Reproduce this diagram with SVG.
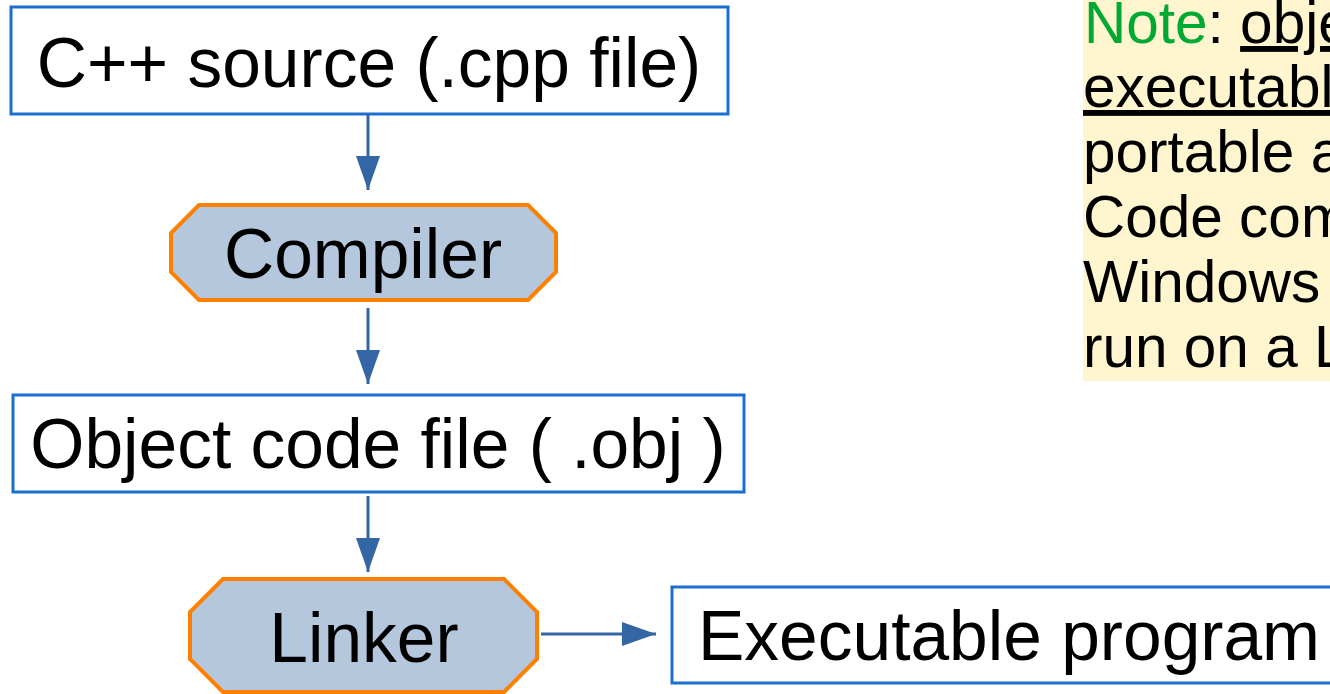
<svg xmlns="http://www.w3.org/2000/svg" width="1330" height="694" viewBox="0 0 1330 694">
<defs>
<style>
.box{fill:#ffffff;stroke:#1a6fcf;stroke-width:3}
.oct{fill:#b4c7dc;stroke:#ff8000;stroke-width:4;stroke-linejoin:miter}
.lbl{font-family:"Liberation Sans",Arial,sans-serif;font-size:69.5px;fill:#000}
.note{font-family:"Liberation Sans",Arial,sans-serif;font-size:58.5px;fill:#000}
.conn{stroke:#3465a4;stroke-width:3;fill:none}
</style>
<marker id="ah" viewBox="0 0 34 24" refX="34" refY="12" markerWidth="34" markerHeight="24" markerUnits="userSpaceOnUse" orient="auto">
<path d="M0,0 L34,12 L0,24 Z" fill="#3465a4"/>
</marker>
</defs>
<rect width="1330" height="694" fill="#ffffff"/>
<g id="note">
<rect x="1083" y="0" width="247" height="381" fill="#fff5ce"/>
<text class="note" x="1084" y="43"><tspan fill="#00a933">Note</tspan>: <tspan text-decoration="underline">obje</tspan></text>
<text class="note" x="1083" y="107" text-decoration="underline">executabl</text>
<text class="note" x="1083" y="172">portable a</text>
<text class="note" x="1083" y="237">Code com</text>
<text class="note" x="1083" y="302">Windows</text>
<text class="note" x="1083" y="367">run on a L</text>
</g>
<g id="source">
<rect class="box" x="11" y="7" width="717" height="107"/>
<text class="lbl" x="369" y="87" text-anchor="middle">C++ source (.cpp file)</text>
</g>
<g id="compiler">
<polygon class="oct" points="199,205 528,205 556,233 556,272 528,300 199,300 171,272 171,233"/>
<text class="lbl" x="363" y="278" text-anchor="middle">Compiler</text>
</g>
<g id="object">
<rect class="box" x="13" y="395" width="731" height="97"/>
<text class="lbl" x="378" y="468" text-anchor="middle">Object code file ( .obj )</text>
</g>
<g id="linker">
<polygon class="oct" points="223,579 504,579 537,612 537,659 504,692 223,692 190,659 190,612"/>
<text class="lbl" x="364" y="662" text-anchor="middle">Linker</text>
</g>
<g id="executable">
<rect class="box" x="672" y="587" width="670" height="96"/>
<text class="lbl" x="698" y="660">Executable program</text>
</g>
<g id="connectors">
<line class="conn" x1="368" y1="114" x2="368" y2="190" marker-end="url(#ah)"/>
<line class="conn" x1="368" y1="308" x2="368" y2="384" marker-end="url(#ah)"/>
<line class="conn" x1="368" y1="496" x2="368" y2="572" marker-end="url(#ah)"/>
<line class="conn" x1="541" y1="634" x2="656" y2="634" marker-end="url(#ah)"/>
</g>
</svg>
